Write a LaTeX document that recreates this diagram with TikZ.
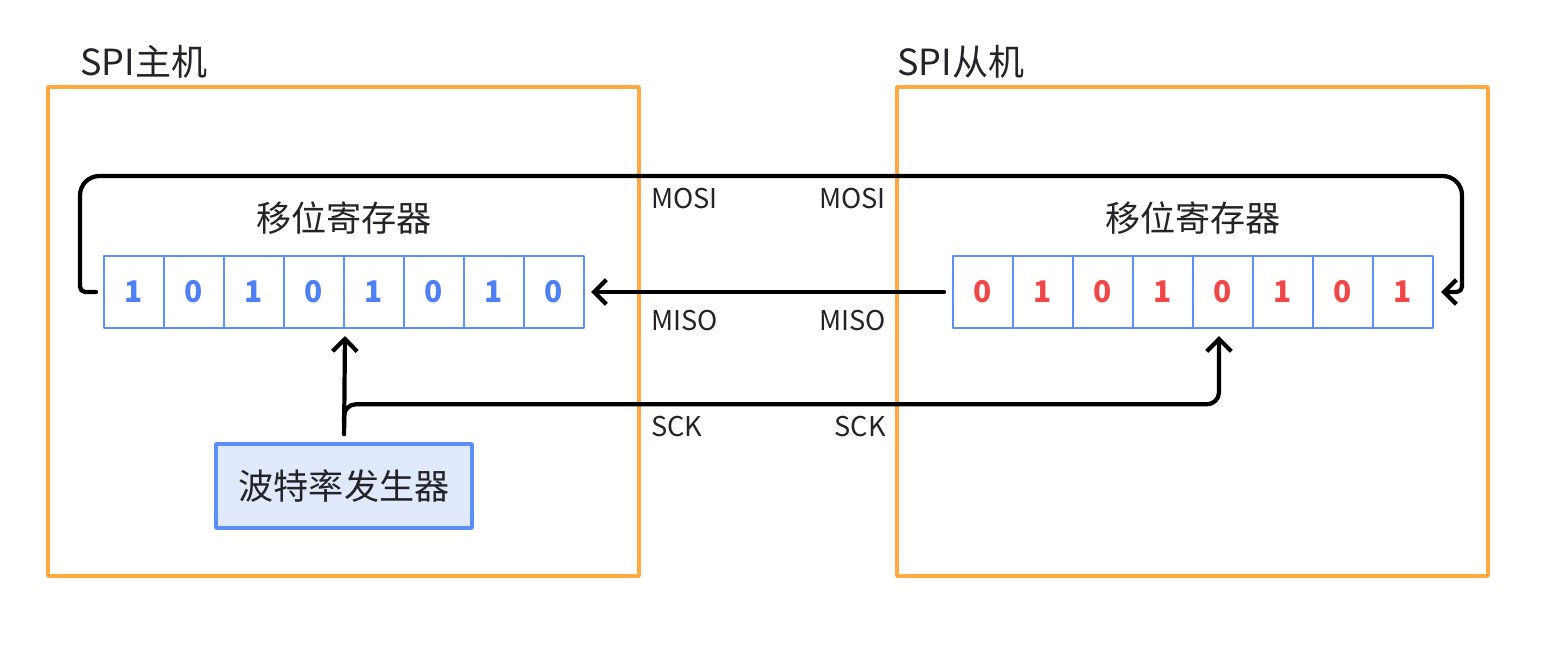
\documentclass[tikz,border=0pt]{standalone}
\usepackage{fontspec}
\setmainfont{Noto Sans CJK SC}
\usetikzlibrary{arrows.meta,calc}
\definecolor{boxorange}{RGB}{255,169,64}
\definecolor{cellblue}{RGB}{91,143,249}
\definecolor{bitblue}{RGB}{79,127,245}
\definecolor{bitred}{RGB}{240,72,72}
\definecolor{genfill}{RGB}{224,233,253}
\definecolor{txt}{RGB}{34,36,40}
\begin{document}
\begin{tikzpicture}[x=0.02cm,y=-0.02cm,line join=round,line cap=round,
    >={Straight Barb[length=7pt,width=14pt]},
    hostbox/.style={draw=boxorange,line width=2pt},
    title/.style={text=txt,anchor=base west,inner sep=0pt,font=\fontsize{20.5pt}{24pt}\selectfont},
    reglabel/.style={text=txt,inner sep=0pt,font=\fontsize{20pt}{24pt}\selectfont},
    mcell/.style={draw=cellblue,line width=1.2pt,minimum width=1.2cm,minimum height=1.44cm,inner sep=0pt,
      font=\fontsize{17pt}{20pt}\selectfont\bfseries},
    genbox/.style={draw=cellblue,fill=genfill,line width=2pt,minimum width=5.12cm,minimum height=1.68cm,
      text=txt,font=\fontsize{20pt}{24pt}\selectfont},
    pin/.style={text=txt,inner sep=0pt,font=\fontsize{15.5pt}{18pt}\selectfont},
    wire/.style={draw=black,line width=2.4pt}]
  \useasboundingbox (0,0) rectangle (1551,660);
  % master and slave
  \draw[hostbox] (48,87) rectangle (639,576);
  \draw[hostbox] (897,87) rectangle (1488,576);
  \node[title] (mtitle) at (80,75) {SPI主机};
  \node[title] (stitle) at (897,75) {SPI从机};
  % shift registers
  \node[reglabel] (mlabel) at (344,218) {移位寄存器};
  \node[reglabel] (slabel) at (1193,218) {移位寄存器};
  \foreach \b [count=\i] in {1,0,1,0,1,0,1,0}
    \node[mcell,text=bitblue] (m\i) at ({74+60*\i},292) {\b};
  \foreach \b [count=\i] in {0,1,0,1,0,1,0,1}
    \node[mcell,text=bitred] (s\i) at ({923+60*\i},292) {\b};
  \node[genbox] (gen) at (344,486) {波特率发生器};
  % lines
  \draw[wire,->] ([xshift=-0.14cm]m1.west) [rounded corners=3pt] -- (80,292)
    [rounded corners=11pt] -- (80,176) -- (1462,176) [rounded corners=3pt] -- (1462,292)
    -- ([xshift=0.14cm]s8.east);
  \draw[wire,->,shorten <=0.16cm,shorten >=0.12cm] (s1.west) -- (m8.east);
  \draw[wire,->,shorten <=0.16cm,shorten >=0.14cm] (gen.north) -- (m4.south east);
  \draw[wire,->,rounded corners=0.24cm] ([yshift=0.4cm]gen.north) -- ([yshift=0.76cm]gen.north)
    -| ([xshift=-0.08cm,yshift=-0.14cm]s5.south);
  % pin names
  \node[pin,anchor=base west] (mmosi) at (651,208) {MOSI};
  \node[pin,anchor=base east] (smosi) at (886,208) {MOSI};
  \node[pin,anchor=base west] (mmiso) at (651,330) {MISO};
  \node[pin,anchor=base east] (smiso) at (886,330) {MISO};
  \node[pin,anchor=base west] (msck) at (651,436) {SCK};
  \node[pin,anchor=base east] (ssck) at (886,436) {SCK};
\end{tikzpicture}
\end{document}
